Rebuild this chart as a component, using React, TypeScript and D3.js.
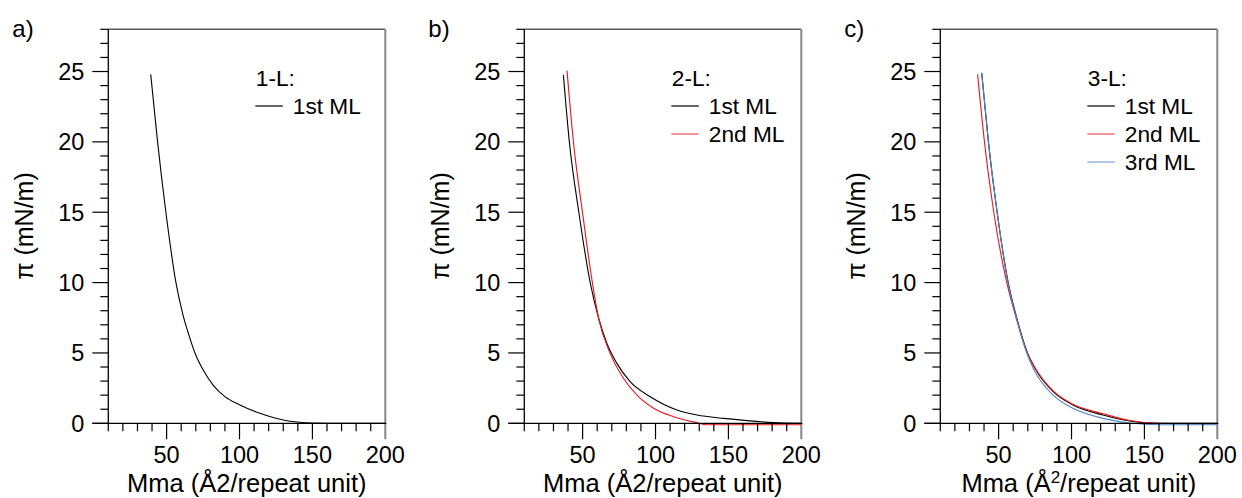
import React from "react";
import * as d3 from "d3";

// ---- data ----
const panelLabels = ["a)", "b)", "c)"];
const legendTitles = ["1-L:", "2-L:", "3-L:"];
const seriesNames = ["1st ML", "2nd ML", "3rd ML"];
const seriesColors = ["#000000", "#e8161e", "#4a86c8"];

const xTicksMajor = [50, 100, 150, 200];
const yTicksMajor = [0, 5, 10, 15, 20, 25];

// Panel a: 1-L
const a1x = [39.1, 43.8, 49.5, 56.4, 61, 65.5, 70, 75, 82, 90, 100.3, 114, 130, 150, 170, 200];
const a1y = [24.8, 20, 15, 10, 7.8, 6.2, 4.85, 3.8, 2.7, 1.9, 1.3, 0.71, 0.23, 0.02, 0, 0];

// Panel b: 2-L
const b1x = [36.8, 40.9, 47.4, 55.2, 60.9, 66.6, 73.5, 82.6, 96.4, 114.7, 128.5, 146.8, 162.8, 181, 199.5];
const b1y = [24.76, 20, 15, 10, 7.5, 5.69, 4.26, 2.96, 1.89, 0.95, 0.59, 0.35, 0.19, 0.05, 0];
const b2x = [39.3, 43.7, 49.9, 56.7, 60.9, 68.9, 78, 87.3, 98.7, 112.4, 128.5, 135, 200];
const b2y = [25.06, 20, 15, 10, 7.5, 4.97, 3.2, 2.0, 1.07, 0.47, 0.04, -0.1, -0.1];

// Panel c: 3-L
const c1x = [38.4, 43, 49, 56.6, 62.4, 69.8, 75, 87.4, 101, 121.6, 140, 158, 200];
const c1y = [24.9, 20, 15, 10, 7.5, 5, 3.9, 2.25, 1.3, 0.59, 0.16, 0, 0];
const c2x = [35.6, 40.3, 46.7, 55.6, 62, 69.6, 75, 87.4, 101, 121.6, 140, 160, 200];
const c2y = [24.8, 20, 15, 10, 7.5, 5, 3.95, 2.3, 1.35, 0.68, 0.2, 0, -0.05];
const c3x = [38.4, 43, 49, 56.4, 62.2, 69.3, 74.5, 87.4, 101, 121.6, 140, 160, 200];
const c3y = [24.9, 20, 15, 10, 7.5, 5, 3.75, 2.0, 1.07, 0.35, 0.02, -0.1, -0.1];

const panels = [
  [[a1x, a1y]],
  [[b1x, b1y], [b2x, b2y]],
  [[c1x, c1y], [c2x, c2y], [c3x, c3y]],
];

// ---- layout ----
const W = 1242;
const H = 498;
const lefts = [108.3, 524.3, 940.3];
const plotW = 277;
const top = 29.3;
const bottom = 423.3;
const FONT = "'Liberation Sans', Arial, Helvetica, sans-serif";

function Panel({ idx }: { idx: number }) {
  const left = lefts[idx];
  const x = d3.scaleLinear().domain([10, 200]).range([left, left + plotW]);
  const y = d3.scaleLinear().domain([0, 28]).range([bottom, top]);
  const line = d3
    .line<[number, number]>()
    .x((d) => x(d[0]))
    .y((d) => y(d[1]))
    .curve(d3.curveMonotoneX);

  const yMinor = d3.range(0, 29, 1);
  const xMinor = d3.range(10, 201, 10);
  const right = x(200);
  const series = panels[idx];

  return (
    <g>
      {/* frame */}
      <line x1={left} x2={right} y1={top} y2={top} stroke="#555" strokeWidth={1.5} />
      <line x1={right} x2={right} y1={top} y2={bottom + 16} stroke="#888" strokeWidth={2} />
      {/* curves */}
      {series.map((s, i) => {
        const pts: [number, number][] = s[0].map((v, k) => [v, s[1][k]]);
        return (
          <path key={i} d={line(pts) || ""} fill="none" stroke={seriesColors[i]} strokeWidth={1.1} />
        );
      })}
      {/* y axis */}
      <line x1={left} x2={left} y1={top} y2={bottom} stroke="#000" strokeWidth={1.3} />
      {yMinor.map((t) => {
        const major = t % 5 === 0;
        return (
          <line key={"y" + t} x1={left - (major ? 16 : 8)} x2={left} y1={y(t)} y2={y(t)} stroke="#000" strokeWidth={1.2} />
        );
      })}
      {yTicksMajor.map((t) => (
        <text key={"yl" + t} x={left - 24} y={y(t)} dy="0.36em" textAnchor="end" fontSize={23.5} fontFamily={FONT}>
          {t}
        </text>
      ))}
      {/* x axis */}
      <line x1={left - 16} x2={right + 1} y1={bottom} y2={bottom} stroke="#000" strokeWidth={1.3} />
      {xMinor.map((t) => {
        const major = t % 50 === 0;
        if (t === 200) return null;
        return (
          <line key={"x" + t} x1={x(t)} x2={x(t)} y1={bottom} y2={bottom + (major ? 16 : 8)} stroke="#000" strokeWidth={1.2} />
        );
      })}
      {xTicksMajor.map((t) => (
        <text key={"xl" + t} x={x(t)} y={463} textAnchor="middle" fontSize={23.5} fontFamily={FONT}>
          {t}
        </text>
      ))}
      {/* axis titles */}
      <text x={(left + right) / 2} y={491.5} textAnchor="middle" fontSize={25.5} fontFamily={FONT}>
        {idx === 2 ? (
          <>
            Mma (Å<tspan dy={-9} fontSize={17}>2</tspan>
            <tspan dy={9}>/repeat unit)</tspan>
          </>
        ) : (
          "Mma (Å2/repeat unit)"
        )}
      </text>
      <text
        transform={`translate(${left - 75},226) rotate(-90)`}
        textAnchor="middle"
        fontSize={25}
        fontFamily={FONT}
      >
        π (mN/m)
      </text>
      <text x={left - 96} y={37} fontSize={24} fontFamily={FONT}>
        {panelLabels[idx]}
      </text>
      {/* legend */}
      <text x={left + 147.5} y={86} fontSize={22.7} fontFamily={FONT}>
        {legendTitles[idx]}
      </text>
      {series.map((_, i) => (
        <g key={"lg" + i}>
          <line
            x1={left + 147}
            x2={left + 174.5}
            y1={106 + i * 28}
            y2={106 + i * 28}
            stroke={seriesColors[i]}
            strokeOpacity={i === 0 ? 1 : 0.75}
            strokeWidth={1.2}
          />
          <text x={left + 184.5} y={113.5 + i * 28} fontSize={22.7} fontFamily={FONT}>
            {seriesNames[i]}
          </text>
        </g>
      ))}
    </g>
  );
}

export default function App() {
  return (
    <svg
      width={W}
      height={H}
      viewBox={`0 0 ${W} ${H}`}
      style={{ position: "absolute", left: 0, top: 0, background: "#fff" }}
    >
      <rect width={W} height={H} fill="#fff" />
      {[0, 1, 2].map((i) => (
        <Panel key={i} idx={i} />
      ))}
    </svg>
  );
}
